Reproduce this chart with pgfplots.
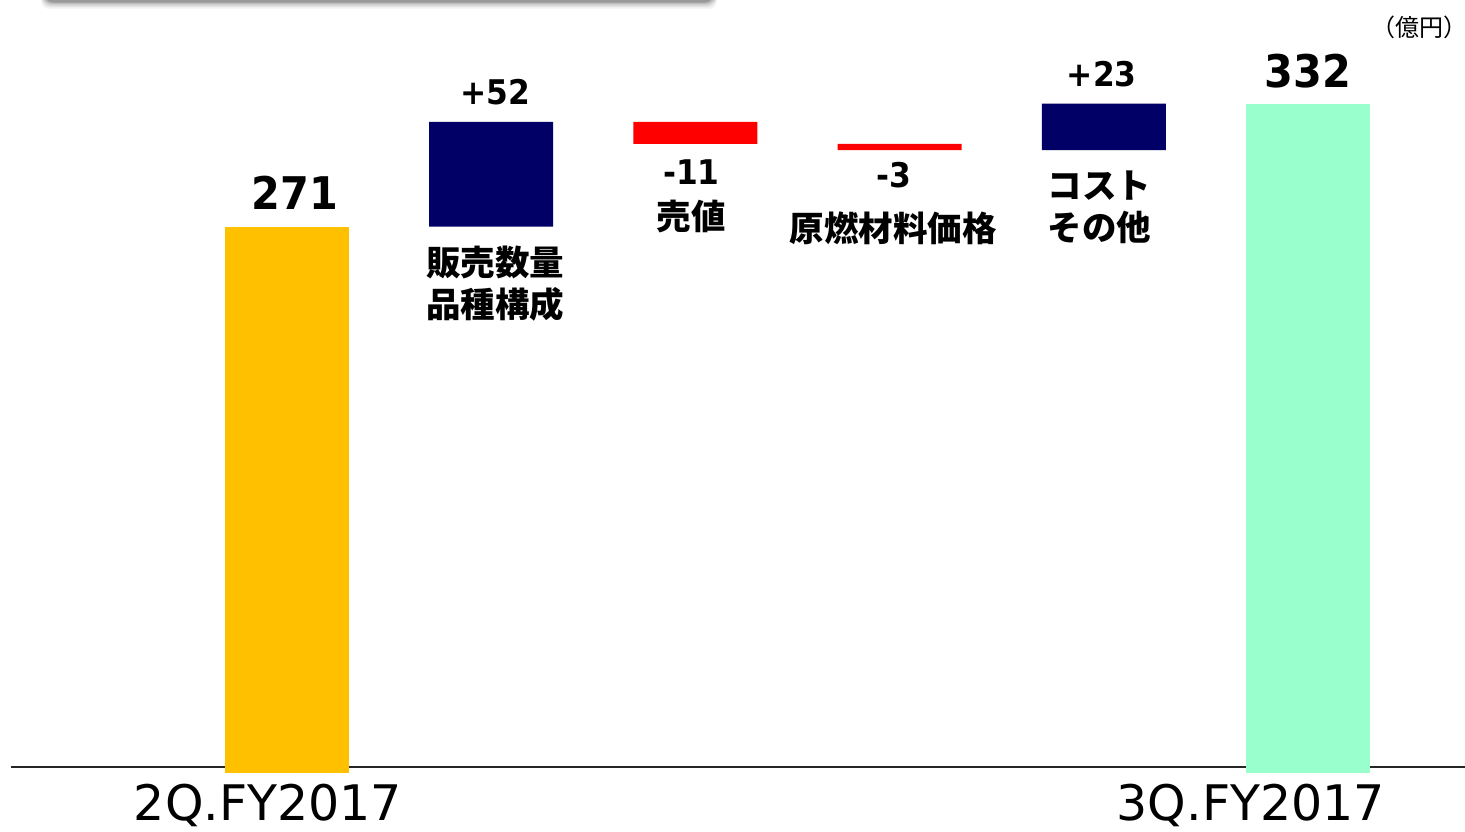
\documentclass[border=0pt]{standalone}
\usepackage{pgfplots}
\pgfplotsset{compat=1.18}
\usepackage{fontspec}
\setmainfont{DejaVu Sans}
\newfontfamily\jp{Noto Sans CJK JP}
\newfontfamily\numb[FakeStretch=0.92]{DejaVu Sans Bold}
\definecolor{cyel}{HTML}{FFC000}
\definecolor{cnavy}{HTML}{000066}
\definecolor{cred}{HTML}{FF0000}
\definecolor{cgreen}{HTML}{99FFCC}
\begin{document}
\begin{tikzpicture}
% decorative shadow of a box above the chart
\foreach \i/\o in {5/0.04,4/0.06,3/0.08,2/0.12,1/0.18}{
  \fill[black,opacity=\o,rounded corners=8bp] (46bp-\i bp,838bp) rectangle (712bp+\i bp,831bp-1.6*\i bp);
}
\begin{axis}[
  scale only axis, width=1465bp, height=832bp,
  at={(0,0)}, anchor=south west,
  xmin=-1.4055, xmax=5.769, ymin=-29.27, ymax=383.43,
  hide axis, clip=false,
  ybar stacked, bar width=124bp,
]
\addplot[draw=none, fill=none] coordinates {(0,0) (1,271) (2,312) (3,309) (4,309) (5,0)};
\addplot[draw=none, fill=cnavy] coordinates {(0,0) (1,52) (2,0) (3,0) (4,23) (5,0)};
\addplot[draw=none, fill=cred] coordinates {(0,0) (1,0) (2,11) (3,3) (4,0) (5,0)};
\addplot[draw=none, fill=cyel] coordinates {(0,271) (1,0) (2,0) (3,0) (4,0) (5,0)};
\addplot[draw=none, fill=cgreen] coordinates {(0,0) (1,0) (2,0) (3,0) (4,0) (5,332)};
\draw[black!85, line width=1.5bp] (axis cs:-1.352,3) -- (axis cs:5.769,3);
% value labels
\node[anchor=base, font=\numb\fontsize{45bp}{50bp}\selectfont] at (axis cs:0.04,279.3) {271};
\node[anchor=base, font=\numb\fontsize{45bp}{50bp}\selectfont] at (axis cs:5.0,339.8) {332};
\node[anchor=base, font=\numb\fontsize{34bp}{38bp}\selectfont] at (axis cs:1.02,331.8) {+52};
\node[anchor=base, font=\numb\fontsize{34bp}{38bp}\selectfont] at (axis cs:1.98,291.7) {-11};
\node[anchor=base, font=\numb\fontsize{34bp}{38bp}\selectfont] at (axis cs:2.97,290.2) {-3};
\node[anchor=base, font=\numb\fontsize{34bp}{38bp}\selectfont] at (axis cs:3.99,340.3) {+23};
% category labels
\node[align=center, font=\jp\bfseries\fontsize{34.5bp}{42bp}\selectfont] at (axis cs:1.02,242.6) {販売数量\\品種構成};
\node[align=center, font=\jp\bfseries\fontsize{34.5bp}{42bp}\selectfont] at (axis cs:1.98,275.8) {売値};
\node[align=center, font=\jp\bfseries\fontsize{34.5bp}{42bp}\selectfont] at (axis cs:2.97,270.3) {原燃材料価格};
\node[align=center, font=\jp\bfseries\fontsize{34.5bp}{42bp}\selectfont] at (axis cs:3.98,280.8) {コスト\\その他};
% period labels
\node[anchor=base, font=\fontsize{49bp}{56bp}\selectfont] at (axis cs:-0.093,-23.8) {2Q.FY2017};
\node[anchor=base, font=\fontsize{49bp}{56bp}\selectfont] at (axis cs:4.72,-23.8) {3Q.FY2017};
\node[font=\jp\fontsize{24bp}{28bp}\selectfont] at (axis cs:5.548,370) {（億円）};
\end{axis}
\pgfresetboundingbox
\path[use as bounding box] (0,0) rectangle (1465bp,832bp);
\end{tikzpicture}
\end{document}
